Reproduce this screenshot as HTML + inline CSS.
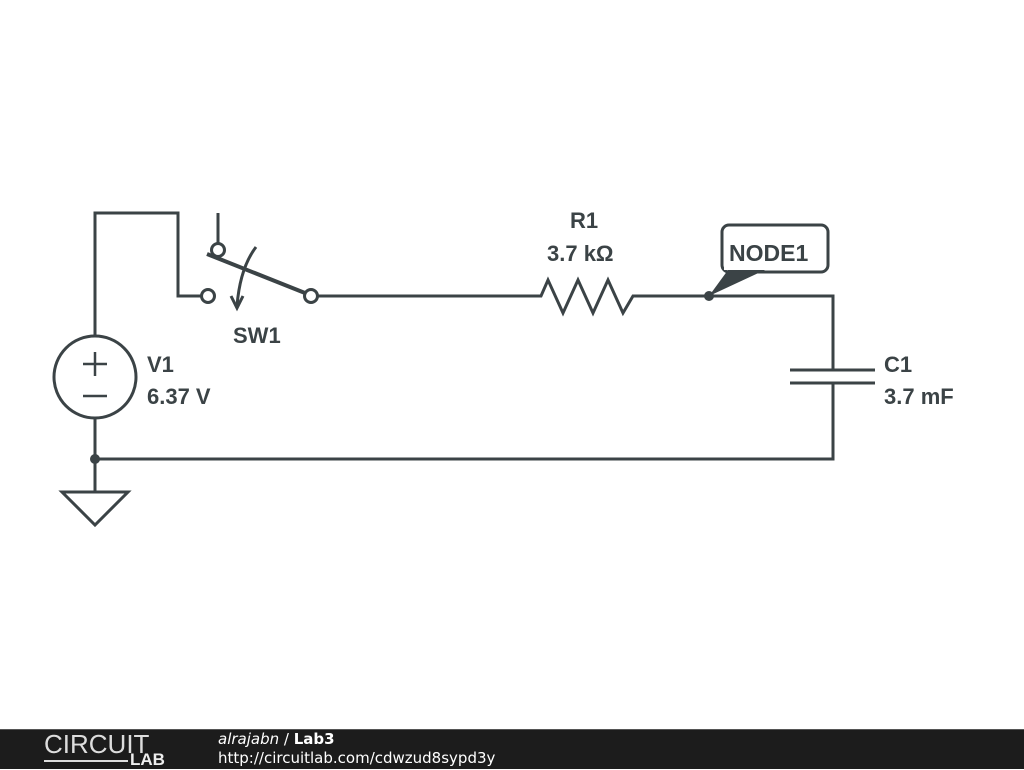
<!DOCTYPE html>
<html><head><style>
body{margin:0;width:1024px;height:768px;background:#fff;overflow:hidden;position:relative;font-family:"Liberation Sans",sans-serif}
svg{position:absolute;left:0;top:0}
.lbl{font-family:"Liberation Sans",sans-serif;font-weight:bold;font-size:22px;fill:#3b4346}
#bar{position:absolute;left:0;top:729px;width:1024px;height:39px;background:#1c1c1c;border-top:1px solid #555}
</style></head><body>
<svg width="1024" height="768">
<g stroke="#3b4346" stroke-width="3" fill="none" stroke-linejoin="miter">
<polyline points="95,336 95,213 178,213 178,296 202,296"/>
<line x1="218" y1="213" x2="218" y2="243"/>
<circle cx="218" cy="250" r="6.5" fill="#fff"/>
<circle cx="208" cy="296" r="6.5" fill="#fff"/>
<circle cx="311" cy="296" r="6.5" fill="#fff"/>
<line x1="207" y1="254" x2="305" y2="293" stroke-width="4"/>
<path d="M256,247 Q240,268 237,306"/>
<polyline points="231,296 237,308 243,296" stroke-linejoin="miter"/>
<polyline points="317,296 541,296 548,280 563,313 578,280 593,313 608,280 623,313 633,296 833,296 833,370"/>
<line x1="790" y1="370" x2="875" y2="370"/>
<line x1="790" y1="383" x2="875" y2="383"/>
<polyline points="833,383 833,459 95,459 95,418"/>
<circle cx="95" cy="377" r="41"/>
<line x1="95" y1="459" x2="95" y2="492"/>
<polygon points="62,492 128,492 95,525"/>
<line x1="83" y1="364" x2="107" y2="364" stroke-width="2.5"/>
<line x1="95" y1="352" x2="95" y2="376" stroke-width="2.5"/>
<line x1="83" y1="396" x2="107" y2="396" stroke-width="2.5"/>
<rect x="722" y="225" width="106" height="47" rx="7" fill="#fff"/>
</g>
<polygon points="709,296 728,270 765,270" fill="#3b4346"/>
<rect x="724" y="258" width="60" height="12" fill="#fff"/>
<circle cx="709" cy="296" r="5" fill="#3b4346"/>
<circle cx="95" cy="459" r="5" fill="#3b4346"/>
<text class="lbl" x="233" y="343">SW1</text>
<text class="lbl" x="570" y="228">R1</text>
<text class="lbl" x="547" y="261">3.7 kΩ</text>
<text class="lbl" x="729" y="261" style="font-size:23px">NODE1</text>
<text class="lbl" x="147" y="372">V1</text>
<text class="lbl" x="147" y="404">6.37 V</text>
<text class="lbl" x="884" y="372">C1</text>
<text class="lbl" x="884" y="404">3.7 mF</text>
</svg>
<div id="bar">
<div style="position:absolute;left:44px;top:-1px;color:#ddd;font-size:26px;font-weight:300">CIRCUIT</div>
<div style="position:absolute;left:44px;top:30px;width:84px;height:2px;background:#ddd"></div>
<div style="position:absolute;left:130px;top:20px;color:#eee;font-size:17px;font-weight:bold">LAB</div>
<div style="position:absolute;left:218px;top:0px;color:#fff;font-size:15px;font-family:'DejaVu Sans',sans-serif"><i>alrajabn</i> / <b>Lab3</b></div>
<div style="position:absolute;left:218px;top:19px;color:#fff;font-size:15px;font-family:'DejaVu Sans',sans-serif">http://circuitlab.com/cdwzud8sypd3y</div>
</div>
</body></html>
